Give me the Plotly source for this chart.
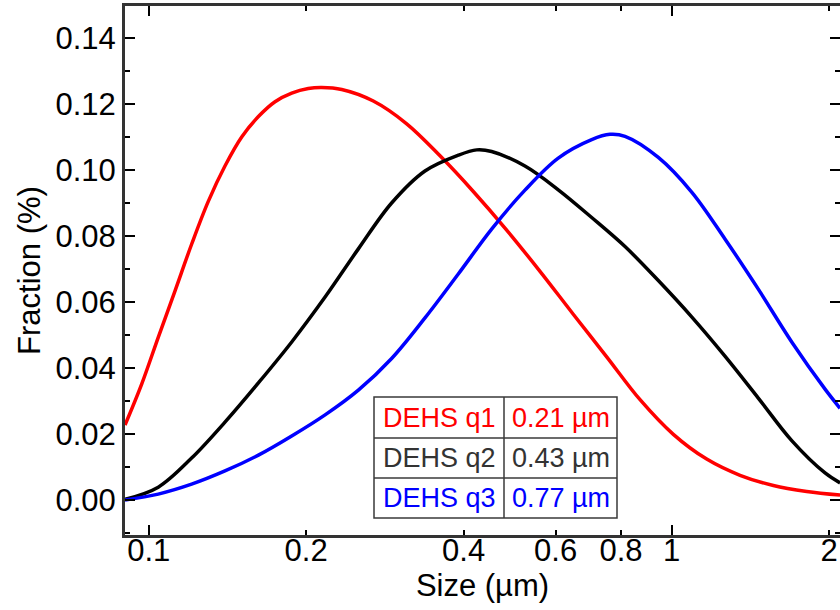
import plotly.graph_objects as go

# ---- data ----
red_x = [0.0901, 0.0970, 0.1043, 0.1123, 0.1208, 0.1300, 0.1399, 0.1506, 0.1621, 0.1744, 0.1877,
         0.2019, 0.2142, 0.2339, 0.2688, 0.3114, 0.3606, 0.4175, 0.4836, 0.5600, 0.6483, 0.7511,
         0.8699, 1.0072, 1.1665, 1.3510, 1.5646, 1.8122, 2.0985]
red_y = [0.0227, 0.0352, 0.0493, 0.0634, 0.0775, 0.0905, 0.1012, 0.1100, 0.1162, 0.1207, 0.1233,
         0.1247, 0.1250, 0.1244, 0.1209, 0.1140, 0.1043, 0.0935, 0.0818, 0.0693, 0.0563, 0.0434,
         0.0304, 0.0199, 0.0124, 0.0075, 0.0044, 0.0026, 0.0015]

black_x = [0.0901, 0.1043, 0.1208, 0.1399, 0.1621, 0.1877, 0.2174, 0.2517, 0.2914, 0.3375, 0.3908,
           0.4238, 0.4526, 0.5241, 0.6069, 0.7031, 0.8142, 0.9428, 1.0919, 1.2642, 1.4641, 1.6963,
           1.9643, 2.0985]
black_y = [0.0002, 0.0039, 0.0127, 0.0236, 0.0355, 0.0479, 0.0615, 0.0761, 0.0900, 0.0997, 0.1045,
           0.1061, 0.1056, 0.1012, 0.0940, 0.0856, 0.0768, 0.0665, 0.0555, 0.0436, 0.0309, 0.0180,
           0.0082, 0.0052]

blue_x = [0.0901, 0.1043, 0.1208, 0.1399, 0.1621, 0.1877, 0.2174, 0.2517, 0.2914, 0.3375, 0.3908,
          0.4526, 0.5241, 0.6069, 0.7031, 0.7621, 0.8142, 0.9428, 1.0919, 1.2642, 1.4641, 1.6963,
          1.9643, 2.0985]
blue_y = [0.0000, 0.0018, 0.0048, 0.0088, 0.0136, 0.0194, 0.0258, 0.0333, 0.0429, 0.0552, 0.0685,
          0.0821, 0.0939, 0.1036, 0.1092, 0.1108, 0.1102, 0.1038, 0.0933, 0.0791, 0.0639, 0.0479,
          0.0336, 0.0278]

table_names = ["DEHS q1", "DEHS q2", "DEHS q3"]
table_sizes = ["0.21 µm", "0.43 µm", "0.77 µm"]
table_colors = ["#ff0000", "#333333", "#0000ff"]

x_tickvals = [0.1, 0.2, 0.4, 0.6, 0.8, 1, 2]
x_ticktext = ["0.1", "0.2", "0.4", "0.6", "0.8", "1", "2"]
x_major = [0.1, 1]

# ---- layout geometry (pixels) ----
W, H = 840, 610
L, R, T, B = 125, 0, 6, 75
pw, ph = W - L - R, H - T - B

def px2paper(px, py):
    return (px - L) / pw, (H - B - py) / ph

FONT = "Liberation Sans, Arial, sans-serif"

fig = go.Figure()
for xs, ys, c in [(red_x, red_y, "#ff0000"), (black_x, black_y, "#000000"), (blue_x, blue_y, "#0000ff")]:
    fig.add_trace(go.Scatter(x=xs, y=ys, mode="lines", line=dict(color=c, width=3.5, shape="spline", smoothing=1.0),
                             showlegend=False, hoverinfo="skip"))
# dummy trace for right-side tick axis
fig.add_trace(go.Scatter(x=[None], y=[None], yaxis="y2", showlegend=False, hoverinfo="skip"))

yrange = [-0.0106, 0.1497]

fig.update_layout(
    width=W, height=H,
    margin=dict(l=L, r=R, t=T, b=B, pad=0),
    paper_bgcolor="white", plot_bgcolor="white",
    font=dict(family=FONT, size=31, color="black"),
    xaxis=dict(
        type="log", range=[-1.0453, 0.3218],
        tickmode="array", tickvals=x_tickvals, ticktext=x_ticktext,
        ticks="inside", ticklen=5, tickwidth=2, tickcolor="black",
        minor=dict(tickmode="array", tickvals=x_major, ticks="inside", ticklen=10, tickwidth=2, tickcolor="black"),
        showline=True, linewidth=3, linecolor="#333333", mirror="allticks",
        showgrid=False, zeroline=False,
        tickfont=dict(size=31), ticklabelstandoff=-14,
        title=dict(text="Size (µm)", font=dict(size=31), standoff=0),
    ),
    yaxis=dict(
        range=yrange, tickmode="linear", tick0=0, dtick=0.02, tickformat=".2f",
        ticks="inside", ticklen=10, tickwidth=2, tickcolor="black",
        minor=dict(dtick=0.01, tick0=0, ticks="inside", ticklen=5, tickwidth=2, tickcolor="black"),
        showline=True, linewidth=3, linecolor="#333333", mirror=False,
        showgrid=False, zeroline=False,
        tickfont=dict(size=31),
        title=dict(text="Fraction (%)", font=dict(size=31), standoff=6),
    ),
    yaxis2=dict(
        overlaying="y", side="right", anchor="x", range=yrange,
        tickmode="linear", tick0=0, dtick=0.02,
        ticks="inside", ticklen=10, tickwidth=2, tickcolor="black",
        minor=dict(dtick=0.01, tick0=0, ticks="inside", ticklen=5, tickwidth=2, tickcolor="black"),
        showticklabels=False, showline=False, showgrid=False, zeroline=False,
    ),
)

# ---- table box ----
col_edges = [374, 504, 617]
row_edges = [397, 438, 478, 518]
shapes = []
x0, y0 = px2paper(col_edges[0], row_edges[0])
x1, y1 = px2paper(col_edges[-1], row_edges[-1])
shapes.append(dict(type="rect", xref="paper", yref="paper", x0=x0, x1=x1, y0=y1, y1=y0,
                   fillcolor="white", line=dict(color="#3a3a3a", width=1.5), layer="above"))
xm, _ = px2paper(col_edges[1], 0)
shapes.append(dict(type="line", xref="paper", yref="paper", x0=xm, x1=xm, y0=y1, y1=y0,
                   line=dict(color="#3a3a3a", width=1.5)))
for ry in row_edges[1:-1]:
    _, yy = px2paper(0, ry)
    shapes.append(dict(type="line", xref="paper", yref="paper", x0=x0, x1=x1, y0=yy, y1=yy,
                       line=dict(color="#3a3a3a", width=1.5)))
fig.update_layout(shapes=shapes)

for i, (nm, sz, c) in enumerate(zip(table_names, table_sizes, table_colors)):
    cy = (row_edges[i] + row_edges[i + 1]) / 2
    for j, txt in enumerate([nm, sz]):
        cx = (col_edges[j] + col_edges[j + 1]) / 2
        ax, ay = px2paper(cx, cy)
        fig.add_annotation(x=ax, y=ay, xref="paper", yref="paper", text=txt, showarrow=False,
                           xanchor="center", yanchor="middle", font=dict(size=27, color=c, family=FONT))

fig.write_html("out.html")
